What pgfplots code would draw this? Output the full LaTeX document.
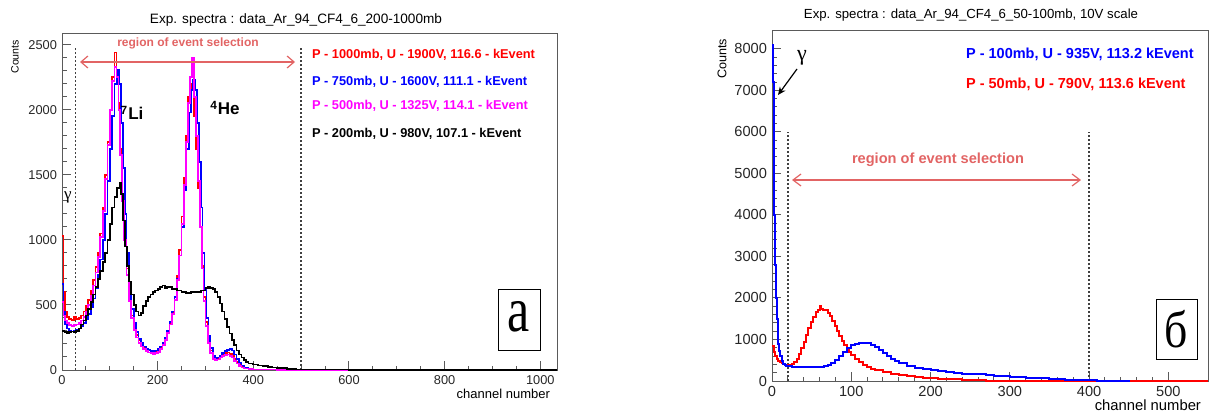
\documentclass[border=0pt]{standalone}
\usepackage{pgfplots}
\pgfplotsset{compat=1.18}
\usepackage{fontspec}
\setmainfont{Liberation Sans}
\newfontfamily\tnr{Liberation Serif}
\usetikzlibrary{arrows.meta}
\definecolor{rred}{RGB}{255,0,0}
\definecolor{rblue}{RGB}{0,0,255}
\definecolor{rmag}{RGB}{255,0,255}
\definecolor{regcol}{RGB}{226,100,100}
\definecolor{frame}{RGB}{90,90,90}
\pgfplotsset{
  rootax/.style={
    scale only axis, anchor=south west,
    tick align=inside, xtick pos=left, ytick pos=left,
    major tick length=4.5pt, minor tick length=2.25pt,
    tick style={frame, line width=0.5pt},
    axis line style={frame, line width=0.5pt},
    /pgf/number format/assume math mode=true,
    scaled ticks=false,
    /pgf/number format/set thousands separator={},
    xticklabel style={text=black!85},
    yticklabel style={text=black!85},
  },
  hist/.style={const plot, no marks, line width=1pt},
  dots/.style={no marks, line width=0.8pt, black!75, dash pattern=on 0.9pt off 1.1pt},
}
\begin{document}
\begin{tikzpicture}
% ---------------- left panel ----------------
\begin{axis}[rootax, at={(31pt,21.5pt)}, width=247.5pt, height=168.5pt,
  xmin=0, xmax=1035, ymin=0, ymax=2590,
  xtick={0,200,...,1000}, ytick={0,500,...,2500},
  minor x tick num=3, minor y tick num=4,
  ticklabel style={font=\fontsize{6.4}{7}\selectfont},
  xticklabel style={yshift=1pt}, yticklabel style={xshift=1pt},
  hist/.append style={line width=0.85pt}]
\addplot[dots] coordinates {(28,0) (28,2490)};
\addplot[dots] coordinates {(500,0) (500,2490)};
\addplot[hist, rred] table {
0 1030
3 600
6 450
10 410
15 390
20 385
25 405
30 390
35 400
40 420
45 450
50 490
55 540
60 610
65 690
70 790
75 900
80 1050
85 1250
90 1500
95 1750
100 2000
105 2250
110 2440
114 2300
118 2050
122 1700
126 1350
130 1050
135 780
140 560
145 420
150 330
155 270
160 230
165 200
170 175
175 160
180 150
185 140
190 135
195 140
200 150
205 170
210 200
215 240
220 290
225 360
230 440
235 560
240 720
245 920
250 1180
255 1480
260 1800
264 2100
268 2200
272 2150
276 1950
280 1700
284 1400
288 1100
292 800
296 560
300 370
305 230
310 150
315 100
320 85
325 90
330 105
335 120
340 130
345 135
350 125
355 110
360 85
365 60
370 40
375 25
380 15
390 8
400 5
420 3
450 2
600 3
700 2
1035 2
};
\addplot[hist, rblue] table {
0 660
3 450
6 350
10 320
15 300
20 295
25 300
30 310
35 320
40 340
45 360
50 390
55 430
60 480
65 550
70 630
75 730
80 850
85 1000
90 1200
95 1450
100 1700
105 1950
110 2200
115 2310
119 2200
123 1900
127 1550
131 1200
135 900
140 640
145 470
150 360
155 290
160 240
165 205
170 180
175 165
180 155
185 148
190 145
195 150
200 160
205 180
210 210
215 250
220 300
225 370
230 450
235 560
240 700
245 880
250 1100
255 1380
260 1700
265 1980
270 2150
274 2230
278 2150
282 1900
286 1600
290 1250
294 900
298 620
302 400
306 260
310 170
315 110
320 90
325 95
330 110
335 130
340 145
345 155
350 160
355 150
360 120
365 85
370 55
375 35
380 20
390 10
400 5
420 3
450 2
1035 2
};
\addplot[hist, rmag] table {
0 520
3 420
6 380
10 360
15 345
20 340
25 345
30 350
35 360
40 380
45 410
50 450
55 500
60 570
65 650
70 750
75 870
80 1020
85 1220
90 1470
95 1730
100 2000
105 2220
110 2330
114 2250
118 2000
122 1650
126 1300
130 1000
135 730
140 530
145 400
150 310
155 250
160 210
165 180
170 160
175 145
180 135
185 128
190 125
195 130
200 140
205 160
210 190
215 230
220 285
225 350
230 430
235 540
240 690
245 880
250 1120
255 1420
260 1750
264 2050
268 2250
272 2400
276 2100
280 1800
284 1450
288 1100
292 780
296 530
300 340
305 210
310 130
315 85
320 75
325 80
330 95
335 110
340 118
345 120
350 110
355 95
360 70
365 50
370 32
375 20
380 12
390 6
400 3
450 2
1035 2
};
\addplot[hist, black] table {
0 300
5 290
10 285
15 290
20 295
25 290
30 300
35 320
40 350
45 380
50 420
55 470
60 520
65 580
70 640
75 700
80 760
85 830
90 900
95 1000
100 1120
105 1250
110 1330
115 1400
120 1440
124 1350
128 1150
132 950
136 800
140 680
145 580
150 500
155 450
160 420
165 440
170 490
175 530
180 560
185 580
190 600
195 610
200 620
205 640
210 650
215 630
220 640
230 620
240 610
250 600
260 590
270 600
280 600
290 610
300 630
305 640
310 630
315 620
320 600
325 560
330 510
335 450
340 390
345 330
350 280
355 230
360 190
365 150
370 120
375 95
380 75
385 60
390 50
400 42
410 35
420 30
430 25
440 20
450 18
460 15
470 10
480 6
490 4
500 3
600 2
1035 2
};
\end{axis}
% ---------------- right panel ----------------
\begin{axis}[rootax, at={(386pt,16pt)}, width=218pt, height=175pt,
  xmin=0, xmax=550, ymin=0, ymax=8430,
  xtick={0,100,...,500}, ytick={0,1000,...,8000},
  minor x tick num=4, minor y tick num=4,
  ticklabel style={font=\fontsize{7.3}{8}\selectfont},
  xticklabel style={yshift=1pt}, yticklabel style={xshift=1pt}]
\addplot[dots] coordinates {(20,0) (20,6000)};
\addplot[dots] coordinates {(400,0) (400,6000)};
\addplot[hist, rred] table {
0 850
2 700
4 600
6 530
8 480
10 450
12 430
14 410
16 395
18 385
20 385
22 390
25 410
28 450
31 530
34 650
37 800
40 950
43 1100
46 1270
49 1420
52 1550
55 1650
58 1720
60 1800
62 1740
64 1720
67 1700
70 1640
73 1560
76 1450
79 1320
82 1200
85 1080
88 960
91 860
94 770
97 690
100 620
105 520
110 450
115 390
120 340
125 300
130 270
140 220
150 180
160 150
170 120
180 100
190 80
200 65
210 55
220 45
230 38
240 30
250 25
260 18
270 12
280 8
290 5
300 4
350 3
400 2
550 2
};
\addplot[hist, rblue] table {
0 8100
1 7200
2 5600
3 4000
4 2800
5 2000
6 1500
7 1150
8 900
9 720
10 600
12 480
14 420
16 390
18 370
20 355
25 340
30 335
35 330
40 330
45 330
50 330
55 335
60 340
65 350
70 380
75 430
80 510
85 610
90 710
95 800
100 860
105 900
110 920
115 920
120 905
125 870
130 810
135 740
140 670
145 600
150 540
155 480
160 430
170 370
180 320
190 285
200 255
210 230
220 210
230 195
240 180
250 170
260 160
270 145
280 130
290 115
300 100
310 90
320 80
330 70
340 62
350 52
360 44
370 36
380 28
390 22
400 17
410 12
420 9
430 6
440 4
450 0
};
\end{axis}
% ---------------- annotations in pixel coordinates ----------------
\begin{scope}[x=0.5pt, y=-0.5pt, shift={(0pt,206.5pt)}]
% left
\node[font=\fontsize{6.8}{8}\selectfont] at (296,20) {Exp. spectra : data\_Ar\_94\_CF4\_6\_200-1000mb};
\node[font=\fontsize{5.3}{6}\selectfont, rotate=90, anchor=east] at (15,33) {Counts};
\node[font=\fontsize{6.5}{7}\selectfont, anchor=east] at (557,394) {channel number};
\node[font=\fontsize{6}{7}\selectfont\bfseries, text=regcol] at (188,43) {region of event selection};
\draw[regcol, line width=0.6pt, {Straight Barb[length=3.5pt,width=6pt]}-{Straight Barb[length=3.5pt,width=6pt]}] (80,62) -- (295,62);
\node[font=\fontsize{6.4}{7}\selectfont\bfseries, text=rred, anchor=west] at (305,55) {P - 1000mb, U - 1900V, 116.6 - kEvent};
\node[font=\fontsize{6.4}{7}\selectfont\bfseries, text=rblue, anchor=west] at (305,82) {P - 750mb, U - 1600V, 111.1 - kEvent};
\node[font=\fontsize{6.4}{7}\selectfont\bfseries, text=rmag, anchor=west] at (305,106) {P - 500mb, U - 1325V, 114.1 - kEvent};
\node[font=\fontsize{6.4}{7}\selectfont\bfseries, text=black, anchor=west] at (305,134) {P - 200mb, U - 980V, 107.1 - kEvent};
\node[font=\fontsize{8.5}{9}\selectfont\bfseries] at (132,113) {\textsuperscript{7}Li};
\node[font=\fontsize{8.5}{9}\selectfont\bfseries] at (225,108) {\textsuperscript{4}He};
\node[font=\fontsize{8.5}{9}\selectfont\tnr] at (68,197) {γ};
\draw[black, line width=0.5pt, fill=white] (498,289) rectangle (540,350);
\node[font=\fontsize{32}{36}\selectfont\tnr, xscale=0.78] at (519,317) {а};
% right
\node[font=\fontsize{6.6}{8}\selectfont] at (971,15) {Exp. spectra : data\_Ar\_94\_CF4\_6\_50-100mb, 10V scale};
\node[font=\fontsize{6.3}{7}\selectfont, rotate=90, anchor=east] at (722,32) {Counts};
\node[font=\fontsize{7.4}{9}\selectfont, anchor=east] at (1208,405) {channel number};
\node[font=\fontsize{7.3}{8}\selectfont\bfseries, text=regcol] at (938,160) {region of event selection};
\draw[regcol, line width=0.6pt, {Straight Barb[length=4pt,width=6pt]}-{Straight Barb[length=4pt,width=6pt]}] (792,180) -- (1081,180);
\node[font=\fontsize{7.25}{8}\selectfont\bfseries, text=rblue, anchor=west] at (959,54) {P - 100mb, U - 935V, 113.2 kEvent};
\node[font=\fontsize{7.25}{8}\selectfont\bfseries, text=rred, anchor=west] at (959,84) {P - 50mb, U - 790V, 113.6 kEvent};
\node[font=\fontsize{11}{12}\selectfont\tnr] at (802,58) {γ};
\draw[black, line width=0.6pt, -{Stealth[length=4pt,width=3.5pt]}] (797,69) -- (778,95);
\draw[black, line width=0.5pt, fill=white] (1156,299) rectangle (1197,359);
\node[font=\fontsize{26}{30}\selectfont\tnr, xscale=0.88] at (1176.5,329) {б};
\end{scope}
\pgfresetboundingbox
\path (0,0) rectangle (606.5pt,206.5pt);
\end{tikzpicture}
\end{document}
